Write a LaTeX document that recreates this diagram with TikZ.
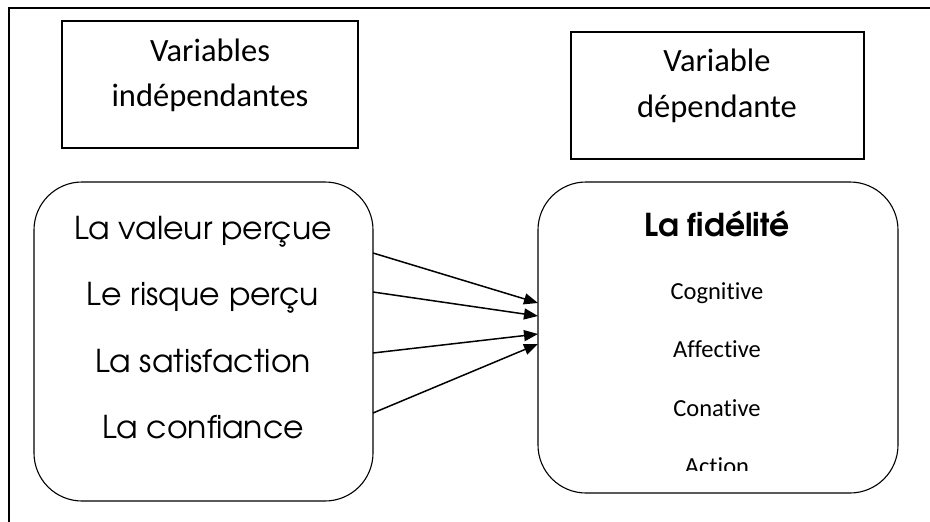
\documentclass[tikz,border=0pt]{standalone}
\usepackage{fontspec}
\setmainfont[Ligatures=NoCommon]{Carlito}
\newfontfamily\gothic{TeX Gyre Adventor}
\usetikzlibrary{arrows.meta,positioning}
\tikzset{
	hbox/.style={draw,rectangle,line width=1.1pt},
	rbox/.style={draw,rectangle,rounded corners=48pt,line width=1.1pt},
	head/.style={anchor=base,inner sep=0pt,font=\fontsize{32.5}{38}\selectfont},
	item/.style={anchor=base,inner sep=0pt,font=\gothic\fontsize{31.5}{36}\selectfont},
	sub/.style={anchor=base,inner sep=0pt,font=\fontsize{24.5}{29}\selectfont},
	link/.style={-{Triangle[length=14pt,width=11pt]},line width=1.5pt}
}

\begin{document}
\begin{tikzpicture}[x=1pt,y=-1pt]
	\useasboundingbox (0,0) rectangle (930,522);
	\draw[line width=1.6pt] (9,522) -- (9,8) -- (930,8);

	\node[hbox,minimum width=296pt,minimum height=127pt] (hind) at (210,84.5) {};
	\node[hbox,minimum width=293pt,minimum height=127pt] (hdep) at (717.5,95.5) {};
	\node[head] (hind1) at (210,61) {Variables};
	\node[head] (hind2) at (210,106) {indépendantes};
	\node[head] (hdep1) at (717,71) {Variable};
	\node[head] (hdep2) at (717,117) {dépendante};

	\node[rbox,minimum width=339pt,minimum height=319pt] (ind) at (203.5,341.5) {};
	\node[rbox,minimum width=360pt,minimum height=311pt] (dep) at (718,337.5) {};

	\node[item] (val) at (203,239) {La valeur perçue};
	\node[item] (ris) at (203,305.5) {Le risque perçu};
	\node[item] (sat) at (203,372) {La satisfaction};
	\node[item] (conf) at (203,438) {La confiance};

	\node[item,font=\gothic\bfseries\fontsize{31.5}{36}\selectfont] (fid) at (717,236) {La fidélité};
	\node[sub] (cog) at (717,299) {Cognitive};
	\node[sub] (aff) at (717,357) {Affective};
	\node[sub] (cona) at (717,416) {Conative};
	\begin{scope}
		\clip (540,440) rectangle (896,470);
		\node[sub] (act) at (717,474.5) {Action};
	\end{scope}

	\coordinate (s1) at (373,253);
	\coordinate (s2) at (373,292);
	\coordinate (s3) at (373,353);
	\coordinate (s4) at (373,413);
	\coordinate (e1) at (538,303);
	\coordinate (e2) at (538,316);
	\coordinate (e3) at (538,334);
	\coordinate (e4) at (538,344);

	\draw[link] (s1) -- (e1);
	\draw[link] (s2) -- (e2);
	\draw[link] (s3) -- (e3);
	\draw[link] (s4) -- (e4);
\end{tikzpicture}
\end{document}
